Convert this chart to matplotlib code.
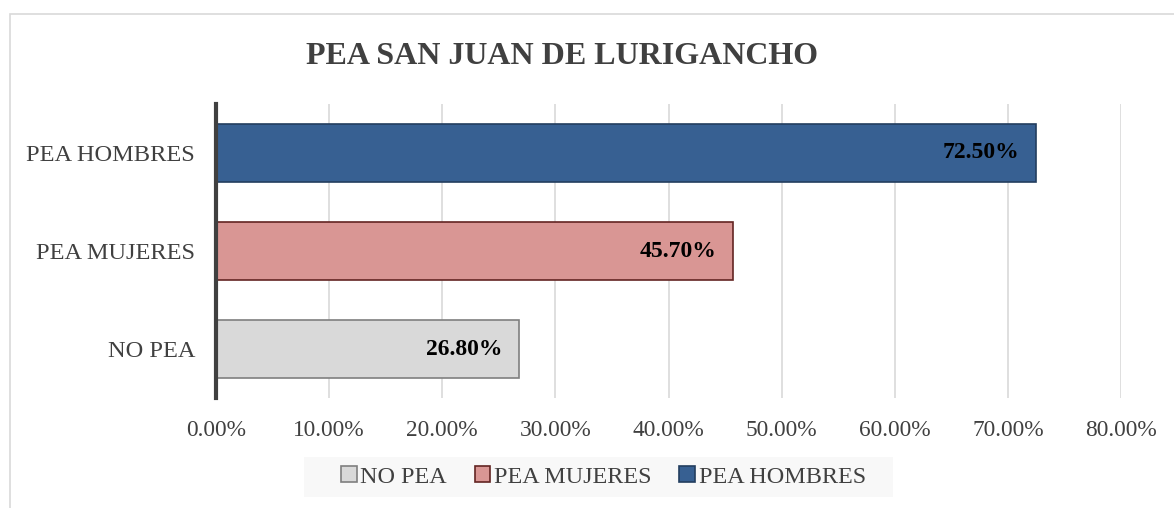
import matplotlib.pyplot as plt
from matplotlib.patches import Rectangle
from matplotlib.ticker import FuncFormatter

categories = ["NO PEA", "PEA MUJERES", "PEA HOMBRES"]
values = [26.8, 45.7, 72.5]
fill_colors = ["#d9d9d9", "#d99694", "#376092"]
edge_colors = ["#7f7f7f", "#632523", "#233e5f"]
xticks = [0, 10, 20, 30, 40, 50, 60, 70, 80]

plt.rcParams["font.family"] = ["Liberation Serif", "DejaVu Serif"]
text_color = "#404040"

fig = plt.figure(figsize=(11.74, 5.08), dpi=100)
ax = fig.add_axes([0.184, 0.2165, 0.7709, 0.5788])

# chart area border
fig.patches.append(Rectangle((10 / 1174, -0.1), 1.2, 1 - 14 / 508 + 0.1,
                             transform=fig.transFigure, fill=False,
                             edgecolor="#d9d9d9", linewidth=1.2, zorder=0))
# legend background
fig.patches.append(Rectangle((304 / 1174, 1 - 497 / 508), 589 / 1174, 40 / 508,
                             transform=fig.transFigure, facecolor="#f8f8f8",
                             edgecolor="none", zorder=0))

bars = ax.barh(range(len(categories)), values, height=0.6,
               color=fill_colors, edgecolor=edge_colors, linewidth=1.2, zorder=3)

for bar, v in zip(bars, values):
    ax.text(v - 1.5, bar.get_y() + bar.get_height() / 2, f"{v:.2f}%",
            ha="right", va="center", fontsize=17, fontweight="bold",
            color="black", zorder=4)

ax.set_xlim(0, 80)
ax.set_ylim(-0.5, 2.5)
ax.set_xticks(xticks)
ax.xaxis.set_major_formatter(FuncFormatter(lambda x, _: f"{x:.2f}%"))
ax.set_yticks(range(len(categories)))
ax.set_yticklabels(categories)
ax.tick_params(axis="x", length=0, pad=16, labelsize=16.8, labelcolor=text_color)
ax.tick_params(axis="y", length=0, pad=15, labelsize=17.6, labelcolor=text_color)
ax.grid(axis="x", color="#d9d9d9", linewidth=1.2, zorder=0)
for side in ["top", "right", "bottom"]:
    ax.spines[side].set_visible(False)
ax.spines["left"].set_color("#404040")
ax.spines["left"].set_linewidth(3)
ax.spines["left"].set_zorder(5)

fig.text(0.479, 1 - 56 / 508, "PEA SAN JUAN DE LURIGANCHO", ha="center", va="center",
         fontsize=23, fontweight="bold", color=text_color)

leg = fig.legend(bars, categories, loc="center", bbox_to_anchor=(0.514, 1 - 477 / 508),
                 ncol=3, frameon=False, fontsize=17.4, handlelength=0.65, handleheight=0.65,
                 handletextpad=0.15, columnspacing=1.15)
for t in leg.get_texts():
    t.set_color(text_color)

fig.savefig("out.png", dpi=100)
